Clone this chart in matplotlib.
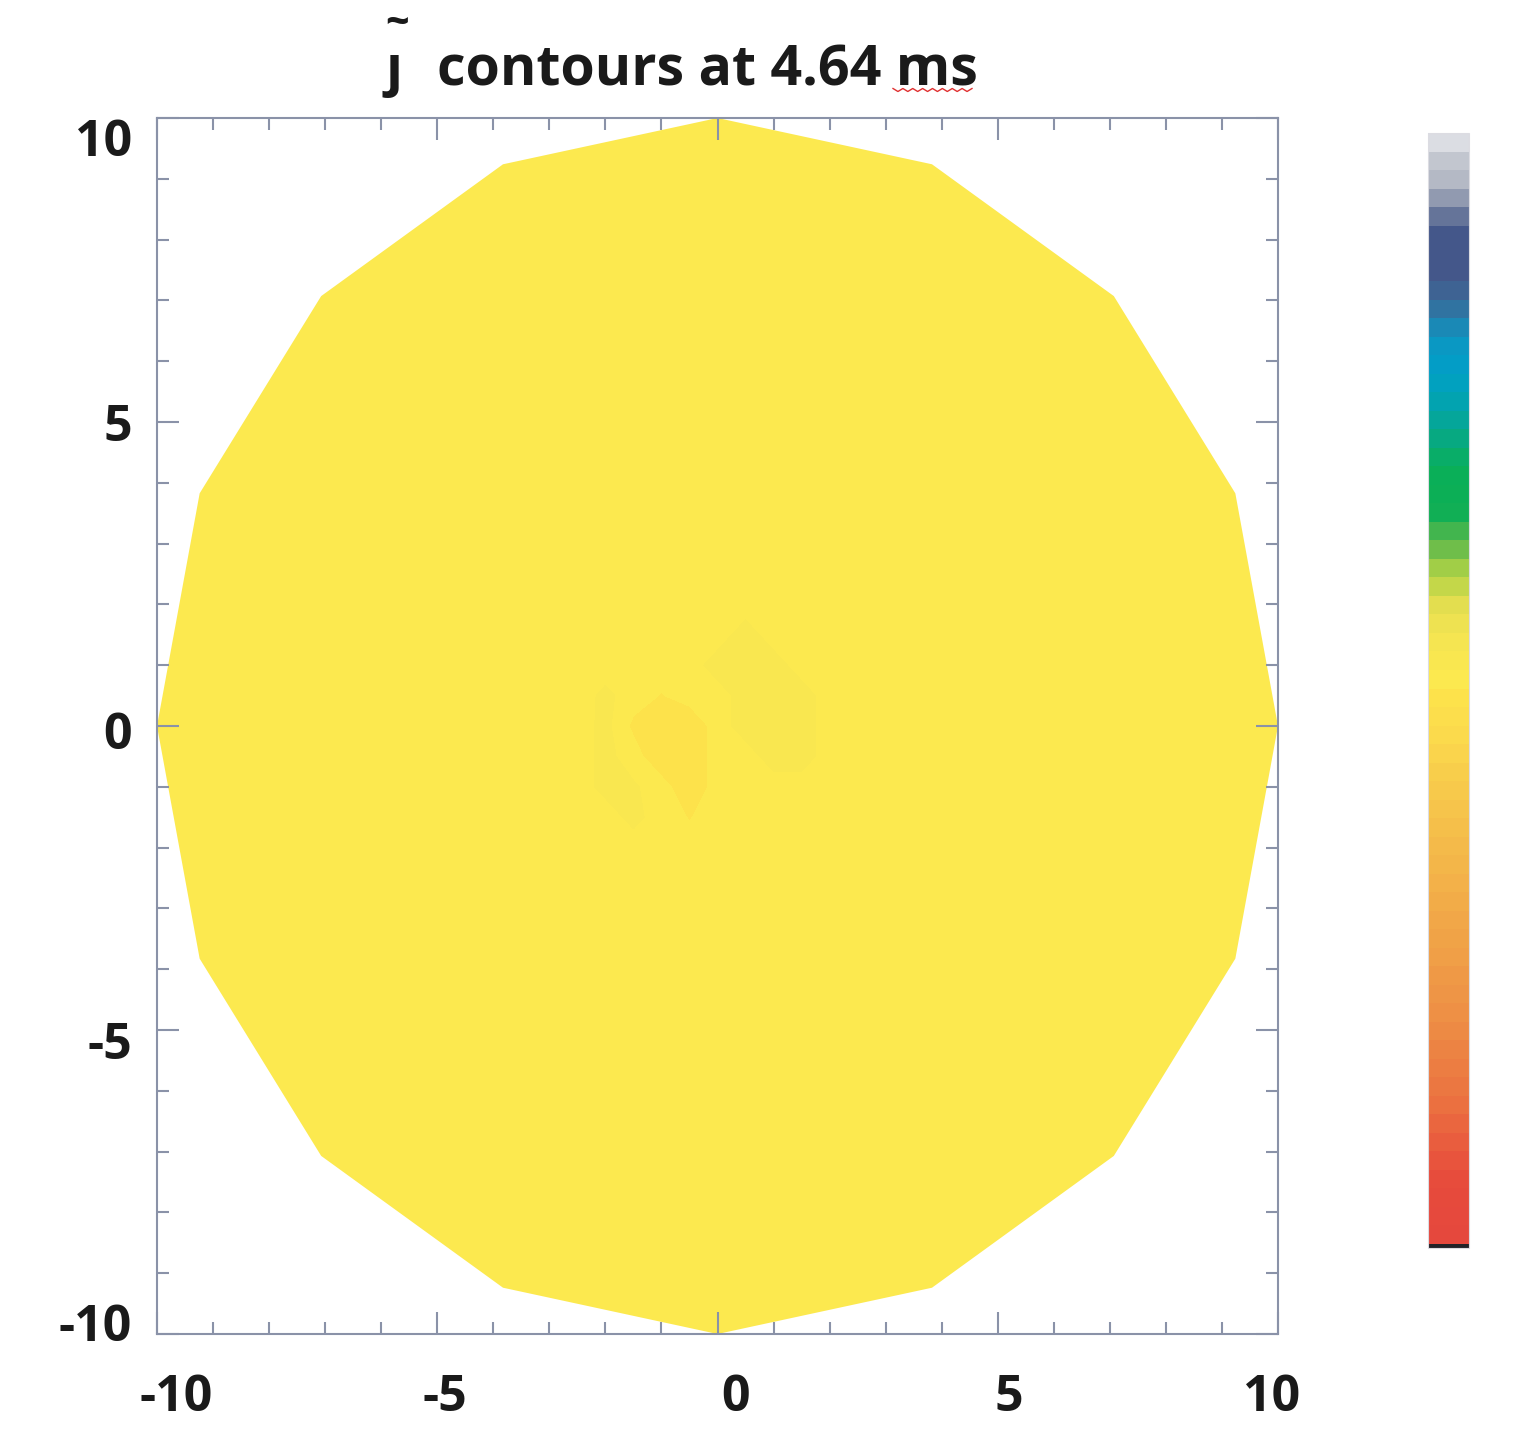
import numpy as np
import matplotlib
matplotlib.use('Agg')
import matplotlib.pyplot as plt
from matplotlib.colors import LinearSegmentedColormap
from matplotlib.patches import Polygon
from matplotlib.ticker import MultipleLocator, NullLocator
from matplotlib.lines import Line2D
from matplotlib.transforms import ScaledTranslation

plt.rcParams['font.family'] = ['Open Sans', 'DejaVu Sans']
plt.rcParams['font.weight'] = 'bold'

W, H = 1520, 1450

tick_vals = [-10, -5, 0, 5, 10]
tick_labels = ['-10', '-5', '0', '5', '10']

# grid the field is sampled on (x, y in same units as the axes)
grid_x = [-10, -2.5, -2, -1.5, -1, -0.5, 0, 0.5, 1, 1.5, 2, 2.5, 10]
grid_y = [-10, -2.5, -2, -1.5, -1, -0.5, 0, 0.5, 1, 1.5, 2, 2.5, 10]
base_value = 0.508

# darker (lower) lobe left of centre
low_x = [-1.0, -0.5, -1.0, -0.5, -0.5, -1.5, -1.0, -0.5]
low_y = [0.0, 0.0, -0.5, -0.5, -1.0, 0.0, 0.5, -1.5]
low_val = [0.485, 0.485, 0.485, 0.485, 0.485, 0.496, 0.499, 0.499]

# slightly higher lobe right of centre
high_x = [0.5, 0.0, 0.5, 1.0, 0.5, 1.0, 1.5, 0.5, 1.0, 1.5, 1.0, 1.5]
high_y = [1.5, 1.0, 1.0, 1.0, 0.5, 0.5, 0.5, 0.0, 0.0, 0.0, -0.5, -0.5]
high_val = [0.525] * 12

# faint arc on the left
arc_x = [-2.0, -2.0, -2.0, -2.0, -1.5, -1.5]
arc_y = [0.5, 0.0, -0.5, -1.0, -1.0, -1.5]
arc_val = [0.521, 0.522, 0.522, 0.522, 0.519, 0.522]

n_sides = 16
radius = 10

field = np.full((len(grid_y), len(grid_x)), base_value)
for xs, ys, vs in [(low_x, low_y, low_val), (high_x, high_y, high_val), (arc_x, arc_y, arc_val)]:
    for x, y, v in zip(xs, ys, vs):
        field[grid_y.index(y), grid_x.index(x)] = v

cmap = LinearSegmentedColormap.from_list('jt', [
    (0.0, '#e5473d'), (0.06, '#e74c3c'), (0.13, '#eb7340'), (0.22, '#ee9446'),
    (0.31, '#f2ad48'), (0.40, '#f6c64b'), (0.46, '#fbda4c'), (0.49, '#fde24b'),
    (0.508, '#fce94f'), (0.515, '#fce94f'), (0.545, '#f4e451'), (0.575, '#e6df50'),
    (0.60, '#b5d446'), (0.635, '#5cb84b'), (0.66, '#0daf55'), (0.70, '#0aaf58'),
    (0.745, '#04a5a0'), (0.785, '#00a0c8'), (0.82, '#0f93c0'), (0.85, '#3a6a98'),
    (0.875, '#44578a'), (0.91, '#44578a'), (0.935, '#7a86a2'), (0.96, '#b3b8c4'),
    (0.985, '#cacdd5'), (1.0, '#eeeef2')])
cmap.set_under('#222228')

fig = plt.figure(figsize=(W / 100, H / 100), dpi=100)
ax = fig.add_axes([157 / W, 1 - 1334 / H, (1278 - 157) / W, (1334 - 118) / H])

levels = np.linspace(0, 1, 61)
cs = ax.contourf(grid_x, grid_y, field, levels=levels, cmap=cmap, extend='min')

ang = np.deg2rad(np.arange(n_sides) * 360 / n_sides)
poly = Polygon(np.column_stack([radius * np.cos(ang), radius * np.sin(ang)]),
               closed=True, transform=ax.transData, facecolor='none', edgecolor='none')
ax.add_patch(poly)
cs.set_clip_path(poly)

ax.set_xlim(-10, 10)
ax.set_ylim(-10, 10)
ax.set_xticks(tick_vals, labels=tick_labels, fontweight='bold')
ax.set_yticks(tick_vals, labels=tick_labels, fontweight='bold')
ax.xaxis.set_minor_locator(MultipleLocator(1))
ax.yaxis.set_minor_locator(MultipleLocator(1))
spine_col = '#8a92a8'
for s in ax.spines.values():
    s.set_color(spine_col)
    s.set_linewidth(1.5)
ax.tick_params(which='both', direction='in', top=True, right=True,
               color=spine_col, width=1.5)
ax.tick_params(which='major', length=16)
ax.tick_params(which='minor', length=8.5)
ax.tick_params(axis='x', labelsize=36, pad=28, labelcolor='#1a1a1a')
ax.tick_params(axis='y', labelsize=36, pad=18, labelcolor='#1a1a1a')

# nudge tick labels like the original layout
x_shift = [19, 8, 18, 11, -6]
y_shift = [12, -10, -4, 0, -19]
for lab, dx in zip(ax.get_xticklabels(), x_shift):
    lab.set_transform(lab.get_transform() + ScaledTranslation(dx / 100, 0, fig.dpi_scale_trans))
for lab, dy in zip(ax.get_yticklabels(), y_shift):
    lab.set_transform(lab.get_transform() + ScaledTranslation(0, dy / 100, fig.dpi_scale_trans))

# colorbar
cax = fig.add_axes([1428 / W, 1 - 1248 / H, 41 / W, (1248 - 133) / H])
cb = fig.colorbar(cs, cax=cax, extendfrac=0.0036, extendrect=True)
cb.set_ticks([])
cax.yaxis.set_minor_locator(NullLocator())
cb.outline.set_edgecolor('#dcdce2')
cb.outline.set_linewidth(0.8)

# title
fig.text(437 / W, 1 - 85 / H, 'contours at 4.64 ms', fontsize=40, fontweight='bold',
         ha='left', va='baseline', color='#1a1a1a')
fig.text(386 / W, 1 - 85 / H, '\u0237', fontsize=40, fontweight='bold',
         ha='left', va='baseline', color='#1a1a1a')
fig.text(397 / W, 1 - 24 / H, '~', fontsize=30, fontweight='bold',
         ha='center', va='center', color='#1a1a1a')

# spell-check squiggle under "ms"
wx = np.linspace(893, 972, 17)
wy = 90 + np.where(np.arange(17) % 2 == 0, -1.5, 1.5)
fig.add_artist(Line2D(wx / W, 1 - wy / H, color='#e03030', lw=1.0))

fig.savefig('out.png', dpi=100)
